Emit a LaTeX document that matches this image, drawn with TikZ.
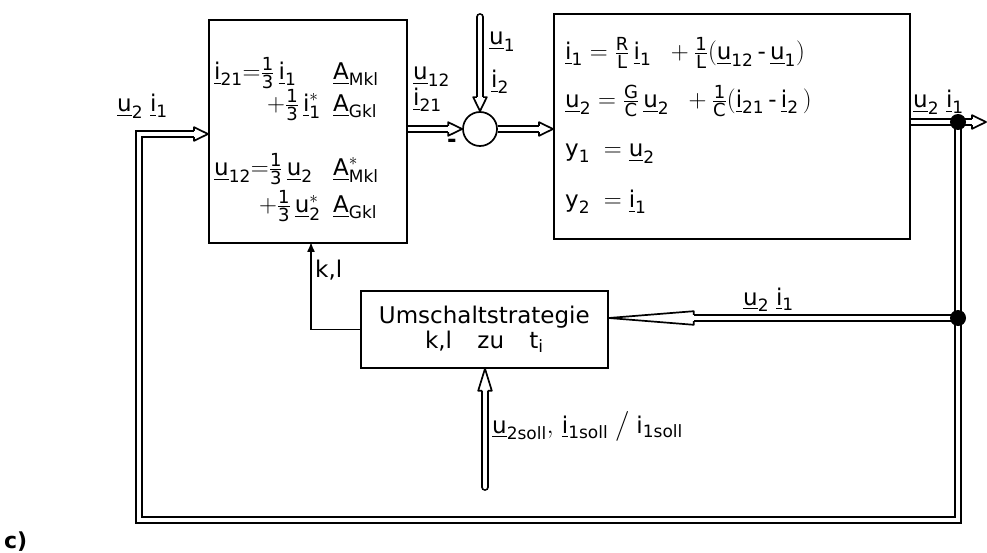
\documentclass[tikz,border=0pt]{standalone}
\usepackage{amsmath}
\usepackage{fontspec}
\setmainfont{DejaVu Sans}
\usetikzlibrary{arrows.meta,calc}
\newcommand{\T}[1]{\text{#1}}
\newcommand{\U}[1]{\underline{\text{#1}}}
\newcommand{\s}[1]{\mbox{\fontsize{17}{17}\selectfont #1}}
\newcommand{\F}[2]{\genfrac{}{}{1pt}{}{\mbox{\fontsize{18}{18}\selectfont #1}}{\mbox{\fontsize{18}{18}\selectfont #2}}}
\tikzset{
  blk/.style={draw, line width=1.7pt},
  thinln/.style={draw, line width=1.4pt},
  dbl/.style={draw, line width=1.7pt, double=white, double distance=4.4pt},
  dblcap/.style={dbl, line cap=round},
  txt/.style={inner sep=0pt, font=\fontsize{23}{25}\selectfont},
  dot/.style={circle, fill=black, inner sep=0pt, minimum size=16pt},
  pics/fattip/.style={code={
    \filldraw[line width=1.7pt, fill=white, line join=round]
      (-#1,3.05) -- (-#1,6.8) -- (0,0) -- (-#1,-6.8) -- (-#1,-3.05);
  }},
}
\begin{document}
\begin{tikzpicture}[x=1pt,y=1pt]
\useasboundingbox (0,0) rectangle (987,-553);

% blocks
\node[blk, anchor=north west, minimum width=198pt, minimum height=223pt] (lbox) at (208,-19) {};
\node[blk, circle, minimum size=34pt, inner sep=0pt] (sum) at (480,-129) {};
\node[blk, anchor=north west, minimum width=356pt, minimum height=225pt] (rbox) at (553,-13) {};
\node[blk, anchor=north west, minimum width=247pt, minimum height=77pt, txt, align=center] (ubox) at (360,-290)
  {Umschaltstrategie\\k,l\hspace{1.1em}zu\hspace{1.1em}t$_{\s{i}}$};

% coordinates
\coordinate (jt) at (958,-122);
\coordinate (jb) at (958,-318);
\coordinate (cbr) at (958,-520);
\coordinate (cbl) at (139,-520);
\coordinate (ctl) at (139,-134);
\coordinate (outend) at (986,-122);
\coordinate (utop) at (480,-17);
\coordinate (sollb) at (485,-487);
\coordinate (klx) at (311,-242);

% left box text
\node[txt, anchor=base west] (l1) at (214,-80) {$\U{i}_{\s{21}}{=}\F{1}{3}\,\U{i}_{\s{1}}$};
\node[txt, anchor=base west] (a1) at (333,-80) {$\U{A}_{\s{Mkl}}$};
\node[txt, anchor=base east] (l2) at (321,-112) {$+\F{1}{3}\,\U{i}^{*}_{\s{1}}$};
\node[txt, anchor=base west] (a2) at (333,-112) {$\U{A}_{\s{Gkl}}$};
\node[txt, anchor=base west] (l3) at (214,-176) {$\U{u}_{\s{12}}{=}\F{1}{3}\,\U{u}_{\s{2}}$};
\node[txt, anchor=base west] (a3) at (333,-176) {$\U{A}^{*}_{\s{Mkl}}$};
\node[txt, anchor=base east] (l4) at (321,-213) {$+\F{1}{3}\,\U{u}^{*}_{\s{2}}$};
\node[txt, anchor=base west] (a4) at (333,-213) {$\U{A}_{\s{Gkl}}$};

% right box text
\node[txt, anchor=base west] (r1) at (565,-60) {$\U{i}_{\s{1}} = \F{R}{L}\,\U{i}_{\s{1}}\;\; + \F{1}{L}(\U{u}_{\s{12}}\,\T{-}\,\U{u}_{\s{1}})$};
\node[txt, anchor=base west] (r2) at (565,-108) {$\U{u}_{\s{2}} = \F{G}{C}\,\U{u}_{\s{2}}\;\; + \F{1}{C}(\U{i}_{\s{21}}\,\T{-}\,\U{i}_{\s{2}}\,)$};
\node[txt, anchor=base west] (r3) at (565,-157) {$\T{y}_{\s{1}}\; = \U{u}_{\s{2}}$};
\node[txt, anchor=base west] (r4) at (565,-208) {$\T{y}_{\s{2}}\; = \U{i}_{\s{1}}$};

% labels
\node[txt, anchor=base west] (lin) at (117,-112) {$\U{u}_{\s{2}}\;\U{i}_{\s{1}}$};
\node[txt, anchor=base west] (lu12) at (413,-80) {$\U{u}_{\s{12}}$};
\node[txt, anchor=base west] (li21) at (413,-106) {$\U{i}_{\s{21}}$};
\node[txt, anchor=center] (minus) at (452,-143) {\textbf{-}};
\node[txt, anchor=base west] (lu1) at (489,-45) {$\U{u}_{\s{1}}$};
\node[txt, anchor=base west] (li2) at (491,-88) {$\U{i}_{\s{2}}$};
\node[txt, anchor=base west] (lout) at (913,-108) {$\U{u}_{\s{2}}\;\U{i}_{\s{1}}$};
\node[txt, anchor=base west] (lfb) at (743,-305) {$\U{u}_{\s{2}}\;\U{i}_{\s{1}}$};
\node[txt, anchor=base west] (lkl) at (315,-277) {k,l};
\node[txt, anchor=base west] (lsoll) at (492,-433) {$\U{u}_{\s{2soll}},\,\U{i}_{\s{1soll}}\;\big/\;\T{i}_{\s{1soll}}$};
\node[txt, anchor=base west, font=\fontsize{22}{24}\selectfont\bfseries] (lc) at (4,-548) {c)};

% connectors
\draw[dbl, shorten >=14pt] (lbox.east |- sum) -- (sum.west);
\pic at (sum.west) {fattip=14};
\draw[dbl, shorten >=14pt] (sum.east) -- (rbox.west |- sum.east);
\pic at (rbox.west |- sum.east) {fattip=14};
\draw[dblcap, shorten >=14pt] (utop) -- (sum.north);
\pic[rotate=-90] at (sum.north) {fattip=14};
\draw[dbl, shorten >=14pt] (rbox.east |- jt) -- (outend);
\pic at (outend) {fattip=14};
\draw[dbl, shorten >=14pt] (jt) -- (cbr) -- (cbl) -- (ctl) -- (lbox.west |- ctl);
\pic at (lbox.west |- ctl) {fattip=14};
\draw[dbl, shorten >=85pt] (jb) -- (ubox.east |- jb);
\pic[rotate=180] at (ubox.east |- jb) {fattip=85};
\draw[dblcap, shorten >=22pt] (sollb) -- (ubox.south -| sollb);
\pic[rotate=90] at (ubox.south -| sollb) {fattip=22};
\draw[thinln, -{Latex[length=10pt,width=8pt]}] (ubox.west) -| (klx);

\node[dot] (dt) at (jt) {};
\node[dot] (db) at (jb) {};
\end{tikzpicture}
\end{document}
